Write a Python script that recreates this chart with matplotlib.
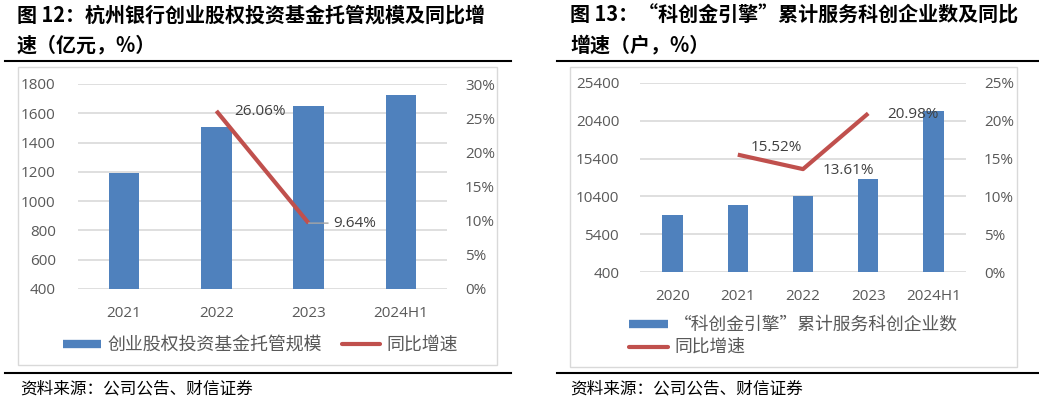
import matplotlib
matplotlib.use("Agg")
import matplotlib.pyplot as plt
from matplotlib.lines import Line2D
from matplotlib.patches import Rectangle
from matplotlib.ticker import FuncFormatter, FixedLocator

plt.rcParams['font.family'] = ['Open Sans', 'Noto Sans CJK SC', 'DejaVu Sans']

# ---- data: left chart ----
left_categories = ["2021", "2022", "2023", "2024H1"]
left_scale = [1195, 1506, 1651, 1723]           # 亿元
left_growth_cats = ["2022", "2023"]
left_growth = [26.06, 9.64]                     # %
left_title = ["图 12：杭州银行创业股权投资基金托管规模及同比增", "速（亿元，%）"]
left_legend = ["创业股权投资基金托管规模", "同比增速"]

# ---- data: right chart ----
right_categories = ["2020", "2021", "2022", "2023", "2024H1"]
right_count = [7900, 9250, 10450, 12680, 21660]  # 户
right_growth_cats = ["2021", "2022", "2023"]
right_growth = [15.52, 13.61, 20.98]            # %
right_title = ["图 13：“科创金引擎”累计服务科创企业数及同比", "增速（户，%）"]
right_legend = ["“科创金引擎”累计服务科创企业数", "同比增速"]

source_text = "资料来源：公司公告、财信证券"

W, H = 1039, 403
BLUE = "#4F81BD"
RED = "#C0504D"
GRID = "#D9D9D9"
TXT = "#595959"
LBL = "#404040"
CJK = ['Noto Sans CJK SC', 'DejaVu Sans']
NUM = ['Open Sans', 'DejaVu Sans']

fig = plt.figure(figsize=(W / 100, H / 100), dpi=100)


def fx(x):
    return x / W


def fy(y):
    return 1 - y / H


def axes_px(x0, y0, x1, y1):
    return fig.add_axes([fx(x0), fy(y1), (x1 - x0) / W, (y1 - y0) / H])


def hline(x0, x1, y, lw=1.5, color="black"):
    fig.add_artist(Line2D([fx(x0), fx(x1)], [fy(y), fy(y)], transform=fig.transFigure,
                          color=color, lw=lw))


def box(x0, y0, x1, y1):
    fig.add_artist(Rectangle((fx(x0), fy(y1)), (x1 - x0) / W, (y1 - y0) / H,
                             transform=fig.transFigure, fill=False, edgecolor=GRID, lw=1))


def style_axes(ax, ax2, ylim, yticks, ylim2, yticks2, ytick_fs, lpad, rpad):
    for a in (ax, ax2):
        for s in a.spines.values():
            s.set_visible(False)
        a.tick_params(length=0, colors=TXT)
    ax.set_ylim(*ylim)
    ax.yaxis.set_major_locator(FixedLocator(yticks))
    ax.yaxis.grid(True, color=GRID, lw=1.2)
    ax.set_axisbelow(True)
    ax2.set_ylim(*ylim2)
    ax2.yaxis.set_major_locator(FixedLocator(yticks2))
    ax2.yaxis.set_major_formatter(FuncFormatter(lambda v, p: f"{v:.0f}%"))
    ax.tick_params(axis='y', pad=lpad, labelsize=ytick_fs)
    ax2.tick_params(axis='y', pad=rpad, labelsize=ytick_fs)
    ax.tick_params(axis='x', pad=12, labelsize=ytick_fs)
    for lab in ax.get_xticklabels() + ax.get_yticklabels() + ax2.get_yticklabels():
        lab.set_family(NUM)
        lab.set_color(TXT)


TITLE_FS = 14.4

# ================= LEFT PANEL =================
hline(5, 511, 61)
hline(5, 511, 373)
box(18, 67, 497, 365)
fig.text(fx(17), fy(15), left_title[0], family=CJK, fontsize=TITLE_FS, weight='bold', va='center', ha='left')
fig.text(fx(17), fy(45), left_title[1], family=CJK, fontsize=TITLE_FS, weight='bold', va='center', ha='left')
fig.text(fx(20), fy(389), source_text, family=CJK, fontsize=12, va='center', ha='left', color='black')

axL = axes_px(78, 84, 447, 289)
axL2 = axL.twinx()
xl = list(range(len(left_categories)))
axL.bar(xl, left_scale, width=0.33, color=BLUE, zorder=2)
axL.set_xlim(-0.5, len(left_categories) - 0.5)
axL.set_xticks(xl)
axL.set_xticklabels(left_categories)
gx = [left_categories.index(c) for c in left_growth_cats]
axL2.plot(gx, left_growth, color=RED, lw=3, solid_capstyle='butt', zorder=3)
style_axes(axL, axL2, (400, 1800), range(400, 1801, 200), (0, 30), range(0, 31, 5), 11, 16, 13)
axL2.set_zorder(axL.get_zorder() + 1)
axL.patch.set_visible(False)
axL2.patch.set_visible(False)
# data labels
axL2.annotate(f"{left_growth[0]:.2f}%", (gx[0], left_growth[0]), xytext=(18, -1),
              textcoords='offset pixels', ha='left', va='center', fontsize=11, color=LBL, family=NUM)
axL2.annotate(f"{left_growth[1]:.2f}%", (gx[1], left_growth[1]), xytext=(25, 0),
              textcoords='offset pixels', ha='left', va='center', fontsize=11, color=LBL, family=NUM,
              arrowprops=dict(arrowstyle='-', color='#A6A6A6', lw=1, shrinkA=2, shrinkB=0))

hL = [Line2D([0], [0], color=BLUE, lw=6, solid_capstyle='butt'),
      Line2D([0], [0], color=RED, lw=3, solid_capstyle='round')]
fig.legend(hL, left_legend, ncol=2, loc='center left', bbox_to_anchor=(fx(63), fy(345)),
           bbox_transform=fig.transFigure, frameon=False, borderpad=0, borderaxespad=0,
           handlelength=2.1, handletextpad=0.4, columnspacing=1.1,
           prop={'family': CJK, 'size': 12.9}, labelcolor=TXT)

# ================= RIGHT PANEL =================
hline(557, 1039, 61)
hline(557, 1039, 373)
box(570, 67, 1017, 367)
fig.text(fx(570), fy(15), right_title[0], family=CJK, fontsize=TITLE_FS, weight='bold', va='center', ha='left')
fig.text(fx(570), fy(45), right_title[1], family=CJK, fontsize=TITLE_FS, weight='bold', va='center', ha='left')
fig.text(fx(570), fy(389), source_text, family=CJK, fontsize=12, va='center', ha='left', color='black')

axR = axes_px(640, 83, 966, 272)
axR2 = axR.twinx()
xr = list(range(len(right_categories)))
axR.bar(xr, [v - 400 for v in right_count], bottom=400, width=0.31, color=BLUE, zorder=2)
axR.set_xlim(-0.5, len(right_categories) - 0.5)
axR.set_xticks(xr)
axR.set_xticklabels(right_categories)
gxr = [right_categories.index(c) for c in right_growth_cats]
axR2.plot(gxr, right_growth, color=RED, lw=3, solid_capstyle='butt', zorder=3)
style_axes(axR, axR2, (400, 25400), range(400, 25401, 5000), (0, 25), range(0, 26, 5), 11, 15, 13)
axR2.set_zorder(axR.get_zorder() + 1)
axR.patch.set_visible(False)
axR2.patch.set_visible(False)
offs = [(13, 7), (20, -1), (19, -1)]
for (x, v), o in zip(zip(gxr, right_growth), offs):
    axR2.annotate(f"{v:.2f}%", (x, v), xytext=o, textcoords='offset pixels',
                  ha='left', va='center', fontsize=11, color=LBL, family=NUM)

hR = [Line2D([0], [0], color=BLUE, lw=6, solid_capstyle='butt'),
      Line2D([0], [0], color=RED, lw=3, solid_capstyle='round')]
fig.legend(hR, right_legend, ncol=1, loc='center left', bbox_to_anchor=(fx(629), fy(336.5)),
           bbox_transform=fig.transFigure, frameon=False, borderpad=0, borderaxespad=0,
           handlelength=2.2, handletextpad=0.35, labelspacing=0.25,
           prop={'family': CJK, 'size': 12.8}, labelcolor=TXT)

fig.savefig("out.png", dpi=100)
